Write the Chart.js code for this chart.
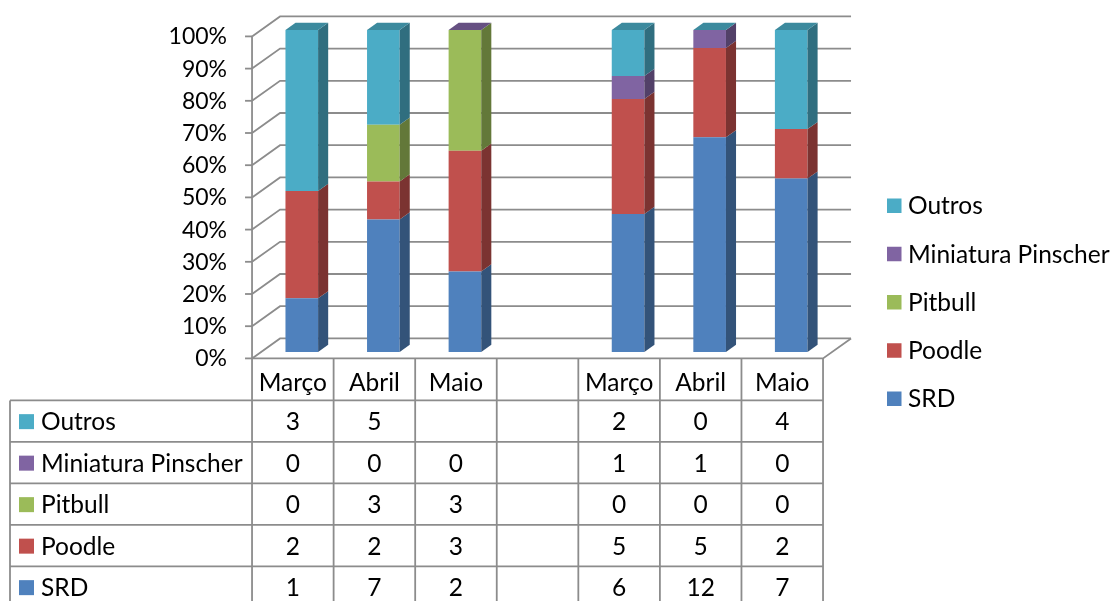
<!DOCTYPE html>
<html>
<head>
<meta charset="utf-8">
<script src="https://cdn.jsdelivr.net/npm/chart.js@4.4.0/dist/chart.umd.min.js"></script>
<style>
  html, body { margin: 0; padding: 0; background: #ffffff; }
  #wrap { position: relative; width: 1117px; height: 601px; }
</style>
</head>
<body>
<div id="wrap"><canvas id="chart"></canvas></div>
<script>
// Monthly counts per breed, two groups of three months (blank column between them)
const categories = ['Março', 'Abril', 'Maio', '', 'Março', 'Abril', 'Maio'];
const srd      = [1, 7, 2, null, 6, 12, 7];
const poodle   = [2, 2, 3, null, 5, 5, 2];
const pitbull  = [0, 3, 3, null, 0, 0, 0];
const pinscher = [0, 0, 0, null, 1, 1, 0];
const outros   = [3, 5, null, null, 2, 0, 4];

// Series in stacking order (bottom to top)
const seriesNames  = ['SRD', 'Poodle', 'Pitbull', 'Miniatura Pinscher', 'Outros'];
const seriesValues = [srd, poodle, pitbull, pinscher, outros];
const seriesColors = ['#4F81BD', '#C0504D', '#9BBB59', '#8064A2', '#4BACC6'];

const yTicks = [0, 10, 20, 30, 40, 50, 60, 70, 80, 90, 100];

const FONT = 'Lato, "Open Sans", sans-serif';
const FONT_SIZE = 24.5;
const AXIS_FONT_SIZE = 23;
const LINE = '#8c8c8c';

// 3D box geometry: floor depth vector, bar front plane and bar thickness as fractions of it
const DEPTH = { x: 28, y: -20 };
const BAR_FRONT = 0.32;
const BAR_DEPTH = 0.36;
const FRONT_DX = DEPTH.x * BAR_FRONT, FRONT_DY = DEPTH.y * BAR_FRONT;
const BAR_DX = DEPTH.x * BAR_DEPTH, BAR_DY = DEPTH.y * BAR_DEPTH;

// Column totals -> 100% stacked shares
const totals = categories.map((_, i) => {
  let s = 0, any = false;
  seriesValues.forEach(arr => { if (arr[i] !== null) { s += arr[i]; any = true; } });
  return any && s > 0 ? s : null;
});
const shares = seriesValues.map(arr => arr.map((v, i) => (v === null || totals[i] === null) ? null : v / totals[i] * 100));

function shade(hex, f) {
  const n = parseInt(hex.slice(1), 16);
  const r = Math.round(((n >> 16) & 255) * f), g = Math.round(((n >> 8) & 255) * f), b = Math.round((n & 255) * f);
  return `rgb(${r},${g},${b})`;
}

function line(ctx, x1, y1, x2, y2) {
  ctx.beginPath(); ctx.moveTo(x1, y1); ctx.lineTo(x2, y2); ctx.stroke();
}

// Walls, gridlines and floor of the 3D box, behind the bars
const boxPlugin = {
  id: 'box3d',
  beforeDatasetsDraw(chart) {
    const { ctx, scales: { x, y } } = chart;
    const left = x.left - FRONT_DX, right = x.right - FRONT_DX;
    ctx.save();
    ctx.strokeStyle = LINE;
    ctx.lineWidth = 1.8;
    yTicks.forEach(v => {
      const fy = y.getPixelForValue(v) - FRONT_DY;
      line(ctx, left - 7, fy, left, fy);
      ctx.beginPath();
      ctx.moveTo(left, fy);
      ctx.lineTo(left + DEPTH.x, fy + DEPTH.y);
      ctx.lineTo(right + DEPTH.x, fy + DEPTH.y);
      ctx.stroke();
    });
    const y0 = y.getPixelForValue(0) - FRONT_DY;
    const y100 = y.getPixelForValue(100) - FRONT_DY;
    line(ctx, left, y100, left, y0);
    ctx.beginPath();
    ctx.moveTo(left, y0);
    ctx.lineTo(right, y0);
    ctx.lineTo(right + DEPTH.x, y0 + DEPTH.y);
    ctx.stroke();
    ctx.restore();
  }
};

// Side and top faces of each stacked column
const facesPlugin = {
  id: 'faces3d',
  afterDatasetsDraw(chart) {
    const { ctx } = chart;
    ctx.save();
    const metas = chart.data.datasets.map((_, d) => chart.getDatasetMeta(d));
    categories.forEach((_, i) => {
      let topIdx = -1;
      metas.forEach((meta, d) => {
        if (shares[d][i] === null) return;
        topIdx = d;
        const el = meta.data[i];
        const r = el.x + el.width / 2;
        if (Math.abs(el.base - el.y) > 0.01) {
          ctx.fillStyle = shade(seriesColors[d], 0.64);
          ctx.beginPath();
          ctx.moveTo(r, el.y);
          ctx.lineTo(r + BAR_DX, el.y + BAR_DY);
          ctx.lineTo(r + BAR_DX, el.base + BAR_DY);
          ctx.lineTo(r, el.base);
          ctx.closePath();
          ctx.fill();
        }
      });
      if (topIdx >= 0) {
        const el = metas[topIdx].data[i];
        const l = el.x - el.width / 2, r = el.x + el.width / 2;
        ctx.fillStyle = shade(seriesColors[topIdx], 0.8);
        ctx.beginPath();
        ctx.moveTo(l, el.y);
        ctx.lineTo(r, el.y);
        ctx.lineTo(r + BAR_DX, el.y + BAR_DY);
        ctx.lineTo(l + BAR_DX, el.y + BAR_DY);
        ctx.closePath();
        ctx.fill();
      }
    });
    ctx.restore();
  }
};

// Data table under the plot and legend on the right
const tablePlugin = {
  id: 'dataTable',
  afterDraw(chart) {
    const { ctx, scales: { x, y } } = chart;
    const n = categories.length;
    const step = x.width / n;
    const left = x.left - FRONT_DX;
    const colX = i => left + i * step;
    const headTop = y.getPixelForValue(0) - FRONT_DY;
    const headBottom = headTop + 42;
    const rowH = 41.5;
    const tableLeft = 10;
    const order = [4, 3, 2, 1, 0];
    const tableBottom = headBottom + rowH * order.length;

    ctx.save();
    ctx.strokeStyle = LINE;
    ctx.lineWidth = 1.8;
    for (let i = 0; i <= n; i++) line(ctx, colX(i), headTop, colX(i), tableBottom);
    for (let r = 0; r <= order.length; r++) {
      const yy = headBottom + r * rowH;
      line(ctx, tableLeft, yy, colX(n), yy);
    }
    line(ctx, tableLeft, headBottom, tableLeft, tableBottom);

    ctx.fillStyle = '#000';
    ctx.font = `${FONT_SIZE}px ${FONT}`;
    ctx.textBaseline = 'middle';
    ctx.textAlign = 'center';
    categories.forEach((c, i) => ctx.fillText(c, colX(i) + step / 2, headTop + 25));

    order.forEach((d, r) => {
      const cy = headBottom + r * rowH + rowH / 2 + 1;
      ctx.fillStyle = seriesColors[d];
      ctx.fillRect(19, cy - 8, 15, 15);
      ctx.fillStyle = '#000';
      ctx.textAlign = 'left';
      ctx.fillText(seriesNames[d], 41, cy);
      ctx.textAlign = 'center';
      seriesValues[d].forEach((v, i) => {
        if (v !== null) ctx.fillText(String(v), colX(i) + step / 2, cy);
      });
    });

    // legend
    order.forEach((d, k) => {
      const cy = 205.5 + k * 48.25;
      ctx.fillStyle = seriesColors[d];
      ctx.fillRect(887, cy - 7, 14.5, 14.5);
      ctx.fillStyle = '#000';
      ctx.textAlign = 'left';
      ctx.fillText(seriesNames[d], 908, cy + 1);
    });
    ctx.restore();
  }
};

new Chart(document.getElementById('chart'), {
  type: 'bar',
  data: {
    labels: categories,
    datasets: seriesNames.map((name, d) => ({
      label: name,
      data: shares[d],
      backgroundColor: seriesColors[d],
      borderWidth: 0,
      categoryPercentage: 1,
      barPercentage: 0.4
    }))
  },
  options: {
    responsive: true,
    maintainAspectRatio: false,
    animation: false,
    devicePixelRatio: 1,
    layout: { padding: { left: 0, top: 30, right: 285, bottom: 249 } },
    plugins: { legend: { display: false }, tooltip: { enabled: false } },
    scales: {
      x: { stacked: true, display: false },
      y: {
        stacked: true,
        min: 0,
        max: 100,
        afterFit(scale) {
          scale.width = 261;
          scale.paddingTop = 0;
          scale.paddingBottom = 0;
        },
        grid: { display: false, drawTicks: false },
        border: { display: false },
        ticks: {
          stepSize: 10,
          autoSkip: false,
          padding: 34,
          labelOffset: 7,
          color: '#000',
          font: { family: FONT, size: AXIS_FONT_SIZE },
          callback: v => v + '%'
        }
      }
    }
  },
  plugins: [boxPlugin, facesPlugin, tablePlugin]
});
</script>
</body>
</html>
